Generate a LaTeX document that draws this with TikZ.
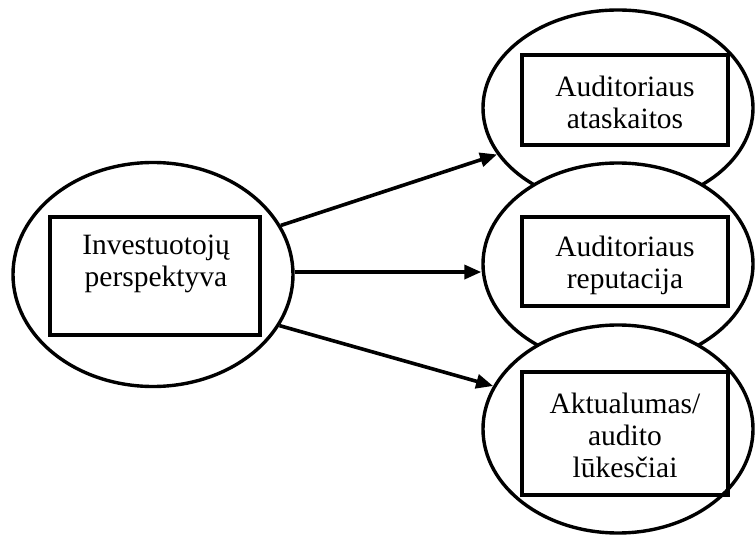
\documentclass[tikz,border=0pt]{standalone}
\usepackage{fontspec}
\setmainfont{Liberation Serif}
\usetikzlibrary{shapes.geometric,arrows.meta}
\begin{document}
\begin{tikzpicture}[x=1bp,y=-1bp,
  oval/.style={ellipse,draw,fill=white,line width=3.4bp,inner sep=0pt},
  framebox/.style={rectangle,draw,line width=3.8bp,inner sep=0pt},
  txt/.style={align=center,inner sep=0pt,font=\fontsize{29.5bp}{32bp}\selectfont},
  link/.style={line width=3.6bp,-{Triangle[length=17bp,width=14bp]}}]
\useasboundingbox (0,0) rectangle (755,537);

% investor side
\node[oval,minimum width=280bp,minimum height=224bp] (inv) at (153,274.5) {};
\node[framebox,minimum width=210bp,minimum height=118bp] (invbox) at (155,276) {};
\node[txt] (invtxt) at (156,264.3) {Investuotojų\\perspektyva};

% three outcome groups, stacked so each covers the one above
\node[oval,minimum width=270bp,minimum height=196bp] (ata) at (618,108) {};
\node[framebox,minimum width=206bp,minimum height=90bp] (atabox) at (625,100) {};
\node[txt] (atatxt) at (625,102.6) {Auditoriaus\\ataskaitos};

\node[oval,minimum width=270bp,minimum height=202bp] (rep) at (618,264) {};
\node[framebox,minimum width=206bp,minimum height=89bp] (repbox) at (625,261.5) {};
\node[txt] (reptxt) at (625,265.3) {Auditoriaus\\reputacija};

\node[oval,minimum width=270bp,minimum height=208bp] (luk) at (618,429) {};
\node[framebox,minimum width=206bp,minimum height=123bp] (lukbox) at (625,433.5) {};
\node[txt] (luktxt) at (625,435.3) {Aktualumas/\\audito\\lūkesčiai};

% links
\draw[link] (inv.21.6) -- (ata.201.2);
\draw[link] (inv.1.5) -- (inv.1.5 -| rep.west);
\draw[link] (inv.-22.6) -- (luk.161.6);
\end{tikzpicture}
\end{document}
